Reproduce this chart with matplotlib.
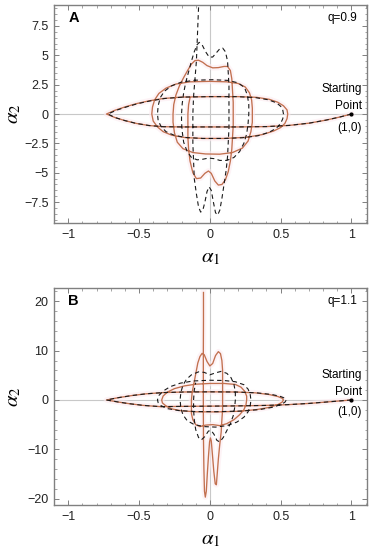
import matplotlib
matplotlib.use("Agg")
import matplotlib.pyplot as plt
from matplotlib.ticker import MultipleLocator, FixedLocator

plt.rcParams['font.family'] = ['Liberation Sans', 'DejaVu Sans']
plt.rcParams['mathtext.fontset'] = 'stix'

# ---------------- data ----------------
start_point = (1.0, 0.0)

# panel A (q=0.9) -- solid red trajectory
red_A = [
    (1.00, 0.00), (0.92, -0.25), (0.82, -0.52), (0.70, -0.78), (0.56, -0.97), (0.40, -1.07),
    (0.20, -1.10), (0.00, -1.10), (-0.20, -1.10), (-0.33, -1.08), (-0.43, -0.98), (-0.52, -0.80),
    (-0.60, -0.56), (-0.67, -0.30), (-0.73, 0.00),
    (-0.67, 0.32), (-0.60, 0.60), (-0.52, 0.88), (-0.43, 1.12), (-0.33, 1.32), (-0.20, 1.44),
    (0.00, 1.48), (0.20, 1.48), (0.33, 1.42), (0.42, 1.25), (0.48, 1.00), (0.52, 0.70),
    (0.545, 0.35), (0.55, 0.00),
    (0.545, -0.40), (0.53, -0.80), (0.50, -1.15), (0.45, -1.45), (0.37, -1.75), (0.26, -1.98),
    (0.10, -2.08), (-0.05, -2.08), (-0.18, -2.00), (-0.27, -1.80), (-0.33, -1.50), (-0.37, -1.10),
    (-0.40, -0.60), (-0.41, 0.00),
    (-0.405, 0.60), (-0.39, 1.20), (-0.36, 1.75), (-0.31, 2.20), (-0.24, 2.55), (-0.14, 2.74),
    (0.00, 2.78), (0.12, 2.74), (0.20, 2.60), (0.25, 2.30), (0.28, 1.80), (0.295, 1.20),
    (0.30, 0.50), (0.30, 0.00),
    (0.30, -0.70), (0.29, -1.50), (0.27, -2.30), (0.23, -2.90), (0.16, -3.28), (0.07, -3.42),
    (-0.03, -3.40), (-0.12, -3.28), (-0.19, -2.95), (-0.23, -2.40), (-0.25, -1.60),
    (-0.26, -0.70), (-0.26, 0.00),
    (-0.255, 0.80), (-0.24, 1.60), (-0.215, 2.40), (-0.185, 3.10), (-0.155, 3.75), (-0.13, 4.25),
    (-0.105, 4.55), (-0.08, 4.58), (-0.05, 4.40), (-0.02, 4.12), (0.02, 3.93), (0.06, 3.95),
    (0.10, 4.05), (0.125, 4.05), (0.145, 3.70), (0.155, 3.00), (0.16, 2.00), (0.165, 1.00),
    (0.165, 0.00),
    (0.165, -1.00), (0.16, -2.00), (0.155, -3.00), (0.145, -4.00), (0.13, -4.90), (0.11, -5.60),
    (0.085, -6.00), (0.06, -6.05), (0.035, -5.70), (0.01, -5.05), (-0.01, -4.85), (-0.035, -5.05),
    (-0.065, -5.45), (-0.095, -5.50), (-0.12, -5.00), (-0.14, -4.00), (-0.15, -3.00),
    (-0.155, -2.00), (-0.155, -1.00), (-0.155, 0.00), (-0.15, 0.80), (-0.14, 1.40),
]

# panel A -- dashed black trajectory
dash_A = [
    (1.00, 0.00), (0.92, -0.25), (0.82, -0.52), (0.70, -0.78), (0.56, -0.97), (0.40, -1.07),
    (0.20, -1.10), (0.00, -1.10), (-0.20, -1.10), (-0.33, -1.08), (-0.43, -0.98), (-0.52, -0.80),
    (-0.60, -0.56), (-0.67, -0.30), (-0.72, 0.00),
    (-0.66, 0.32), (-0.59, 0.60), (-0.51, 0.88), (-0.42, 1.12), (-0.32, 1.32), (-0.19, 1.44),
    (0.00, 1.48), (0.19, 1.48), (0.32, 1.40), (0.41, 1.22), (0.47, 0.96), (0.50, 0.66),
    (0.515, 0.33), (0.52, 0.00),
    (0.515, -0.40), (0.50, -0.80), (0.47, -1.20), (0.42, -1.55), (0.34, -1.85), (0.23, -2.02),
    (0.10, -2.08), (-0.05, -2.08), (-0.17, -2.00), (-0.25, -1.82), (-0.31, -1.50),
    (-0.345, -1.05), (-0.365, -0.55), (-0.37, 0.00),
    (-0.365, 0.70), (-0.35, 1.40), (-0.32, 1.95), (-0.27, 2.40), (-0.20, 2.72), (-0.10, 2.88),
    (0.02, 2.92), (0.13, 2.86), (0.20, 2.65), (0.245, 2.25), (0.265, 1.60), (0.275, 0.80),
    (0.275, 0.00),
    (0.27, -0.80), (0.26, -1.70), (0.24, -2.50), (0.21, -3.20), (0.17, -3.70), (0.12, -3.95),
    (0.07, -3.95), (0.03, -3.80), (-0.01, -3.75), (-0.05, -3.85), (-0.09, -3.90), (-0.13, -3.70),
    (-0.16, -3.20), (-0.185, -2.40), (-0.195, -1.50), (-0.20, -0.70), (-0.20, 0.00),
    (-0.195, 0.90), (-0.185, 1.80), (-0.17, 2.70), (-0.15, 3.60), (-0.13, 4.50), (-0.11, 5.30),
    (-0.09, 5.90), (-0.075, 6.10), (-0.055, 5.90), (-0.03, 5.30), (-0.005, 4.85), (0.02, 4.85),
    (0.045, 5.20), (0.07, 5.55), (0.09, 5.62), (0.11, 5.30), (0.125, 4.50), (0.13, 3.50),
    (0.135, 2.40), (0.135, 1.20), (0.135, 0.00),
    (0.135, -1.20), (0.13, -2.40), (0.125, -3.60), (0.115, -4.80), (0.10, -6.00), (0.085, -7.20),
    (0.07, -8.20), (0.055, -8.60), (0.04, -8.40), (0.025, -7.50), (0.01, -6.50), (-0.005, -6.20),
    (-0.02, -6.60), (-0.035, -7.50), (-0.05, -8.20), (-0.065, -8.35), (-0.08, -7.90),
    (-0.095, -6.80), (-0.11, -5.50), (-0.115, -4.00), (-0.12, -2.50), (-0.12, -1.00),
    (-0.12, 0.00), (-0.115, 1.50), (-0.105, 3.00), (-0.095, 4.50), (-0.09, 6.00),
    (-0.085, 7.50), (-0.08, 9.00), (-0.078, 10.0),
]

# panel B (q=1.1) -- solid red trajectory
red_B = [
    (1.00, 0.00), (0.85, -0.35), (0.70, -0.70), (0.55, -0.95), (0.40, -1.10), (0.20, -1.20),
    (0.00, -1.25), (-0.20, -1.30), (-0.35, -1.35), (-0.47, -1.10), (-0.57, -0.75),
    (-0.65, -0.40), (-0.73, 0.00),
    (-0.65, 0.45), (-0.55, 0.90), (-0.45, 1.25), (-0.33, 1.50), (-0.18, 1.62), (0.00, 1.65),
    (0.18, 1.62), (0.32, 1.45), (0.42, 1.10), (0.48, 0.70), (0.51, 0.35), (0.52, 0.00),
    (0.51, -0.45), (0.48, -0.95), (0.42, -1.50), (0.33, -1.95), (0.20, -2.30), (0.05, -2.42),
    (-0.10, -2.40), (-0.20, -2.20), (-0.27, -1.80), (-0.31, -1.20), (-0.335, -0.60),
    (-0.34, 0.00),
    (-0.33, 0.80), (-0.30, 1.60), (-0.25, 2.30), (-0.18, 2.85), (-0.10, 3.20), (0.00, 3.35),
    (0.10, 3.35), (0.18, 3.15), (0.22, 2.60), (0.245, 1.80), (0.26, 0.80), (0.26, 0.00),
    (0.255, -1.00), (0.24, -2.00), (0.21, -3.00), (0.17, -4.00), (0.12, -4.80), (0.07, -5.20),
    (0.02, -5.00), (-0.03, -5.10), (-0.07, -5.40), (-0.10, -5.00), (-0.12, -4.00),
    (-0.13, -2.80), (-0.13, -1.50), (-0.13, 0.00),
    (-0.125, 1.50), (-0.115, 3.00), (-0.105, 4.50), (-0.095, 6.00), (-0.085, 7.50),
    (-0.07, 8.80), (-0.055, 9.45), (-0.04, 9.20), (-0.02, 7.80), (0.00, 6.90), (0.02, 7.40),
    (0.04, 9.00), (0.06, 9.80), (0.075, 9.40), (0.085, 8.00), (0.09, 6.00), (0.09, 4.00),
    (0.09, 2.00), (0.09, 0.00),
    (0.09, -2.00), (0.085, -4.00), (0.08, -6.50), (0.07, -9.00), (0.06, -12.0), (0.052, -15.0),
    (0.046, -17.2), (0.038, -17.0), (0.028, -14.5), (0.018, -11.0), (0.01, -8.30),
    (0.004, -7.70), (-0.002, -8.50), (-0.01, -11.5), (-0.018, -15.0), (-0.025, -18.5),
    (-0.032, -19.7), (-0.038, -18.5), (-0.042, -14.0), (-0.045, -8.0), (-0.046, -2.0),
    (-0.046, 4.0), (-0.046, 10.0), (-0.045, 16.0), (-0.045, 21.8),
]

# panel B -- dashed black trajectory
dash_B = [
    (1.00, 0.00), (0.85, -0.35), (0.70, -0.70), (0.55, -0.95), (0.40, -1.10), (0.20, -1.20),
    (0.00, -1.25), (-0.20, -1.30), (-0.35, -1.35), (-0.47, -1.10), (-0.57, -0.75),
    (-0.65, -0.40), (-0.73, 0.00),
    (-0.65, 0.45), (-0.55, 0.90), (-0.45, 1.25), (-0.33, 1.50), (-0.18, 1.62), (0.00, 1.65),
    (0.18, 1.62), (0.33, 1.45), (0.44, 1.10), (0.50, 0.70), (0.53, 0.35), (0.54, 0.00),
    (0.53, -0.45), (0.50, -0.95), (0.44, -1.50), (0.35, -1.95), (0.22, -2.25), (0.05, -2.38),
    (-0.10, -2.35), (-0.22, -2.15), (-0.30, -1.75), (-0.345, -1.15), (-0.365, -0.55),
    (-0.37, 0.00),
    (-0.36, 0.90), (-0.33, 1.80), (-0.28, 2.70), (-0.21, 3.40), (-0.12, 3.85), (0.00, 4.00),
    (0.10, 3.95), (0.18, 3.70), (0.24, 3.10), (0.27, 2.20), (0.285, 1.10), (0.29, 0.00),
    (0.285, -1.20), (0.27, -2.40), (0.24, -3.50), (0.19, -4.50), (0.12, -5.20), (0.04, -5.50),
    (-0.04, -5.40), (-0.11, -5.00), (-0.16, -4.20), (-0.19, -3.00), (-0.205, -1.60),
    (-0.21, 0.00),
    (-0.205, 1.50), (-0.19, 3.00), (-0.165, 4.20), (-0.13, 5.10), (-0.08, 5.70), (-0.04, 5.60),
    (0.00, 5.10), (0.04, 5.50), (0.08, 5.80), (0.12, 5.40), (0.15, 4.50), (0.17, 3.20),
    (0.18, 1.60), (0.18, 0.00),
    (0.175, -1.60), (0.165, -3.20), (0.145, -4.80), (0.12, -6.20), (0.095, -7.60), (0.07, -8.50),
    (0.05, -8.20), (0.03, -7.00), (0.01, -6.20), (-0.01, -6.30), (-0.035, -7.40), (-0.06, -8.10),
    (-0.08, -7.60), (-0.10, -6.00), (-0.11, -4.00), (-0.115, -2.00), (-0.115, 0.00),
    (-0.11, 2.00), (-0.10, 3.50),
]

x_ticks = [-1, -0.5, 0, 0.5, 1]
x_ticklabels = ['\u22121', '\u22120.5', '0', '0.5', '1']
yA_ticks = [-7.5, -5, -2.5, 0, 2.5, 5, 7.5]
yA_ticklabels = ['\u22127.5', '\u22125', '\u22122.5', '0', '2.5', '5', '7.5']
yB_ticks = [-20, -10, 0, 10, 20]
yB_ticklabels = ['\u221220', '\u221210', '0', '10', '20']

panels = [
    dict(label='A', q='q=0.9', red=red_A, dash=dash_A, ylim=(-9.28, 9.28),
         yticks=yA_ticks, ylabels=yA_ticklabels, yminor=0.5, start_txt_y=0.15, origin_y=-1.2,
         rect=[0.145, 0.5945, 0.839, 0.3964]),
    dict(label='B', q='q=1.1', red=red_B, dash=dash_B, ylim=(-21.3, 22.7),
         yticks=yB_ticks, ylabels=yB_ticklabels, yminor=2, start_txt_y=0.4, origin_y=-2.4,
         rect=[0.145, 0.0818, 0.839, 0.3945]),
]

RED = '#c2704f'
FRAME = '#808080'

fig = plt.figure(figsize=(3.73, 5.50), dpi=100)

for p in panels:
    ax = fig.add_axes(p['rect'])
    ax.set_xlim(-1.1, 1.11)
    ax.set_ylim(*p['ylim'])

    # grid lines through the origin
    ax.axhline(0, color='#c8c8c8', lw=0.8, zorder=0)
    ax.axvline(0, color='#c8c8c8', lw=0.8, zorder=0)

    rx = [pt[0] for pt in p['red']]
    ry = [pt[1] for pt in p['red']]
    dx = [pt[0] for pt in p['dash']]
    dy = [pt[1] for pt in p['dash']]

    ax.plot(rx, ry, color='#fdebf0', lw=4, alpha=0.6, solid_joinstyle='round', zorder=1)
    ax.plot(rx, ry, color=RED, lw=0.95, solid_joinstyle='round', zorder=2)
    ax.plot(dx, dy, color='#1a1a1a', lw=0.8, dashes=(4, 3), zorder=3)
    ax.plot([start_point[0]], [start_point[1]], 'o', color='black', ms=2, zorder=4)

    ax.text(1.075, p['start_txt_y'], 'Starting\nPoint', ha='right', va='bottom',
            multialignment='right', fontsize=8.5, linespacing=1.55)
    ax.text(1.075, p['origin_y'], '(1,0)', ha='right', va='center', fontsize=8.5)

    ax.text(0.045, 0.94, p['label'], transform=ax.transAxes, ha='left', va='center',
            fontsize=10.5, fontweight='bold')
    ax.text(0.97, 0.94, p['q'], transform=ax.transAxes, ha='right', va='center', fontsize=8.5)

    ax.xaxis.set_major_locator(FixedLocator(x_ticks))
    ax.set_xticklabels(x_ticklabels)
    ax.xaxis.set_minor_locator(MultipleLocator(0.1))
    ax.yaxis.set_major_locator(FixedLocator(p['yticks']))
    ax.set_yticklabels(p['ylabels'])
    ax.yaxis.set_minor_locator(MultipleLocator(p['yminor']))

    ax.tick_params(which='both', direction='in', color=FRAME, labelsize=9,
                   labelcolor='#222222', top=True, right=True)
    ax.tick_params(which='major', length=3.5, width=0.7, pad=4)
    ax.tick_params(which='minor', length=1.8, width=0.5)
    for s in ax.spines.values():
        s.set_color(FRAME)
        s.set_linewidth(1.0)

    ax.set_xlabel(r'$\alpha_1$', fontsize=15)
    ax.set_ylabel(r'$\alpha_2$', fontsize=15)
    ax.xaxis.set_label_coords(0.5, -0.115)
    ax.yaxis.set_label_coords(-0.10, 0.5)

fig.savefig('out.png', dpi=100)
